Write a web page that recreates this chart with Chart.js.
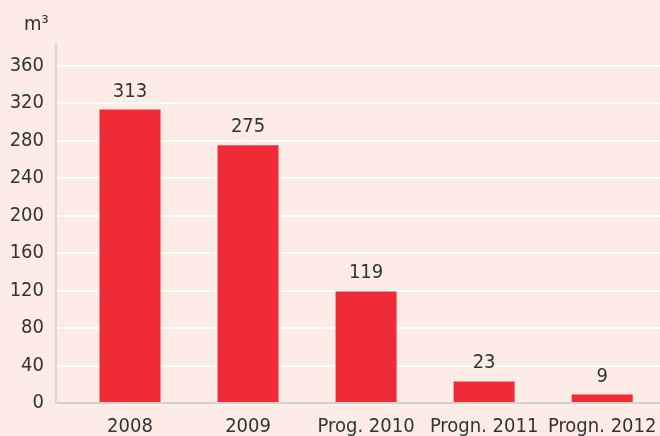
<!DOCTYPE html>
<html>
<head>
<meta charset="utf-8">
<script src="https://cdn.jsdelivr.net/npm/chart.js@4"></script>
<style>
  html, body { margin: 0; padding: 0; background: #fdece6; }
  #wrap { width: 660px; height: 436px; position: relative; }
</style>
</head>
<body>
<div id="wrap"><canvas id="volumeChart"></canvas></div>
<script>
// chart data
var categories = ["2008", "2009", "Prog. 2010", "Progn. 2011", "Progn. 2012"];
var volumes = [313, 275, 119, 23, 9];
var yTicks = [0, 40, 80, 120, 160, 200, 240, 280, 320, 360];
var unitLabel = "m³";

var FONT = "'Liberation Sans Narrow', 'DejaVu Sans Condensed', sans-serif";
var TEXT = "#333333";

// value labels above the bars + the unit in the corner
var labelsPlugin = {
  id: "labels",
  afterDatasetsDraw: function (chart) {
    var ctx = chart.ctx;
    var meta = chart.getDatasetMeta(0);
    ctx.save();
    ctx.font = "20px " + FONT;
    ctx.fillStyle = TEXT;
    ctx.textAlign = "center";
    ctx.textBaseline = "alphabetic";
    meta.data.forEach(function (bar, i) {
      ctx.fillText(String(volumes[i]), bar.x, bar.y - 13);
    });
    ctx.textAlign = "left";
    ctx.fillText(unitLabel, 24, 30);
    ctx.restore();
  },
};

var points = volumes.map(function (v, i) {
  return { x: i, y: v };
});

var myChart = new Chart(document.getElementById("volumeChart"), {
  type: "bar",
  data: {
    datasets: [
      {
        data: points,
        backgroundColor: "#ee2b36",
        borderWidth: 0,
        barPercentage: 0.517,
        categoryPercentage: 1,
      },
    ],
  },
  options: {
    responsive: true,
    maintainAspectRatio: false,
    animation: false,
    layout: { padding: { top: 44, right: 0, left: 0, bottom: 0 } },
    plugins: {
      legend: { display: false },
      tooltip: { enabled: false },
    },
    scales: {
      x: {
        type: "linear",
        offset: false,
        min: -0.627,
        max: 4.49,
        afterFit: function (scale) {
          scale.height = 33;
          scale.paddingLeft = 0;
          scale.paddingRight = 0;
        },
        afterBuildTicks: function (scale) {
          scale.ticks = categories.map(function (c, i) {
            return { value: i };
          });
        },
        ticks: {
          callback: function (value) {
            return categories[value];
          },
          color: TEXT,
          font: { family: FONT, size: 20 },
          padding: 12,
          maxRotation: 0,
          autoSkip: false,
        },
        grid: { display: false, drawTicks: false },
        border: { color: "#cfd2d4", width: 2 },
      },
      y: {
        min: 0,
        max: 383,
        afterFit: function (scale) {
          scale.width = 56;
        },
        afterBuildTicks: function (scale) {
          scale.ticks = yTicks.map(function (v) {
            return { value: v };
          });
        },
        ticks: {
          color: TEXT,
          font: { family: FONT, size: 20 },
          padding: 12,
        },
        grid: {
          drawTicks: false,
          lineWidth: 2,
          color: function (c) {
            return c.tick && c.tick.value === 0 ? "rgba(0,0,0,0)" : "#ffffff";
          },
        },
        border: { color: "#d6d8da", width: 2 },
      },
    },
  },
  plugins: [labelsPlugin],
});
</script>
</body>
</html>
